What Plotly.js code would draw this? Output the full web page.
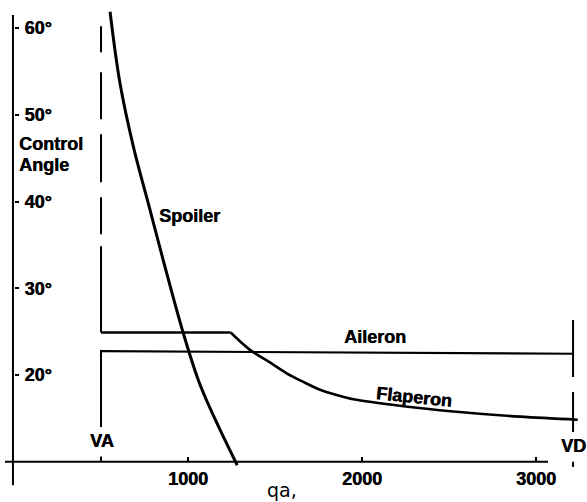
<!DOCTYPE html>
<html>
<head>
<meta charset="utf-8">
<script src="https://cdn.plot.ly/plotly-3.0.1.min.js"></script>
<style>html,body{margin:0;padding:0;background:#fff;}#chart{width:587px;height:502px;}</style>
</head>
<body>
<div id="chart"></div>
<script>
// ---- data ----
var spoilerQa    = [552, 609, 686, 782, 858, 973, 1059, 1126, 1203, 1283];
var spoilerAngle = [61.88, 53.65, 46.32, 39.02, 33.2, 24.81, 19.43, 16.2, 12.89, 9.6];

var flaperonKneeQa    = [500, 1245];
var flaperonKneeAngle = [24.9, 24.9];
var flaperonQa    = [1245, 1356, 1471, 1567, 1663, 1759, 1854, 1950, 2238, 2525, 2908, 3240];
var flaperonAngle = [24.9, 22.9, 21.45, 20.2, 19.2, 18.3, 17.7, 17.2, 16.4, 15.8, 15.2, 14.85];

var aileronQa    = [500, 3213];
var aileronAngle = [22.75, 22.45];

var xTickVals = [1000, 2000, 3000];
var xTickText = ["1000", "2000", "3000"];
var yTickVals = [20, 30, 40, 50, 60];
var yTickText = ["20°", "30°", "40°", "50°", "60°"];

var vaQa = 500;   // manoeuvre speed
var vdQa = 3213;  // dive speed

var font = "Liberation Sans, Arial, sans-serif";
var heavy = "0.6px 0 0 #000";
function b(s) { return "<b>" + s + "</b>"; }

var traces = [
  {x: spoilerQa, y: spoilerAngle, mode: "lines", line: {color: "#000", width: 3, shape: "spline", smoothing: 1}, name: "Spoiler", hoverinfo: "skip"},
  {x: flaperonKneeQa, y: flaperonKneeAngle, mode: "lines", line: {color: "#000", width: 2.6}, name: "Flaperon", hoverinfo: "skip"},
  {x: flaperonQa, y: flaperonAngle, mode: "lines", line: {color: "#000", width: 2.6, shape: "spline", smoothing: 0.9}, name: "Flaperon", hoverinfo: "skip"},
  {x: aileronQa, y: aileronAngle, mode: "lines", line: {color: "#000", width: 2.2}, name: "Aileron", hoverinfo: "skip"}
];

var shapes = [
  // axis lines
  {type: "line", xref: "x", yref: "y", x0: -52, x1: 3069, y0: 10, y1: 10, line: {color: "#000", width: 2}},
  {type: "line", xref: "x", yref: "y", x0: -6, x1: -6, y0: 7.3, y1: 61.5, line: {color: "#000", width: 2}},
  // VA dashed upper part
  {type: "line", xref: "x", yref: "y", x0: vaQa, x1: vaQa, y0: 60.2, y1: 24.9, line: {color: "#000", width: 2, dash: "26px,20px,47px,15px,48px,15px,37px,12px,90px"}},
  // VA lower solid part and tick
  {type: "line", xref: "x", yref: "y", x0: vaQa, x1: vaQa, y0: 22.9, y1: 14.0, line: {color: "#000", width: 2}},
  {type: "line", xref: "x", yref: "y", x0: vaQa, x1: vaQa, y0: 10.6, y1: 10, line: {color: "#000", width: 2}},
  // VD
  {type: "line", xref: "x", yref: "y", x0: vdQa, x1: vdQa, y0: 26.34, y1: 19.77, line: {color: "#000", width: 2}},
  {type: "line", xref: "x", yref: "y", x0: vdQa, x1: vdQa, y0: 18.04, y1: 13.43, line: {color: "#000", width: 2}},
  {type: "line", xref: "x", yref: "y", x0: vdQa, x1: vdQa, y0: 10.0, y1: 9.4, line: {color: "#000", width: 2}}
];

function ann(text, x, y, opts) {
  var a = {text: b(text), x: x, y: y, xref: "x", yref: "y", showarrow: false,
           font: {family: font, size: 18, color: "#000", shadow: heavy},
           xanchor: "center", yanchor: "middle"};
  if (opts) for (var k in opts) a[k] = opts[k];
  return a;
}

var annotations = [
  ann("Control", 17, 46.6, {xanchor: "left"}),
  ann("Angle", 17, 44.2, {xanchor: "left"}),
  ann("Spoiler", 1011, 38.3),
  ann("Aileron", 2075, 24.35),
  ann("Flaperon", 2299, 17.44, {textangle: 6}),
  ann("VA", 506, 12.39),
  ann("VD", 3213, 11.8),
  {text: "qa,", x: 1540, y: 6.75, xref: "x", yref: "y", showarrow: false,
   font: {family: "DejaVu Sans, sans-serif", size: 19, color: "#000"}, xanchor: "center", yanchor: "middle"}
];

var layout = {
  width: 587, height: 502,
  margin: {l: 0, r: 0, t: 0, b: 0, pad: 0},
  paper_bgcolor: "#fff", plot_bgcolor: "#fff",
  showlegend: false,
  xaxis: {
    range: [-80.5, 3293.1], anchor: "free", position: 0.0802,
    showgrid: false, zeroline: false, showline: false, automargin: false,
    ticks: "inside", ticklen: 5, tickwidth: 2, tickcolor: "#000",
    tickvals: xTickVals, ticktext: xTickText.map(b), ticklabelstandoff: 4,
    tickfont: {family: font, size: 18, color: "#000", shadow: heavy}
  },
  yaxis: {
    range: [5.36, 63.23], anchor: "free", position: 0.0239,
    showgrid: false, zeroline: false, showline: false, automargin: false,
    ticks: "inside", ticklen: 4, tickwidth: 2, tickcolor: "#000",
    ticklabelposition: "inside", ticklabelstandoff: 6,
    tickvals: yTickVals, ticktext: yTickText.map(b),
    tickfont: {family: font, size: 18, color: "#000", shadow: heavy}
  },
  shapes: shapes,
  annotations: annotations
};

Plotly.newPlot("chart", traces, layout, {staticPlot: true, displayModeBar: false});
</script>
</body>
</html>
